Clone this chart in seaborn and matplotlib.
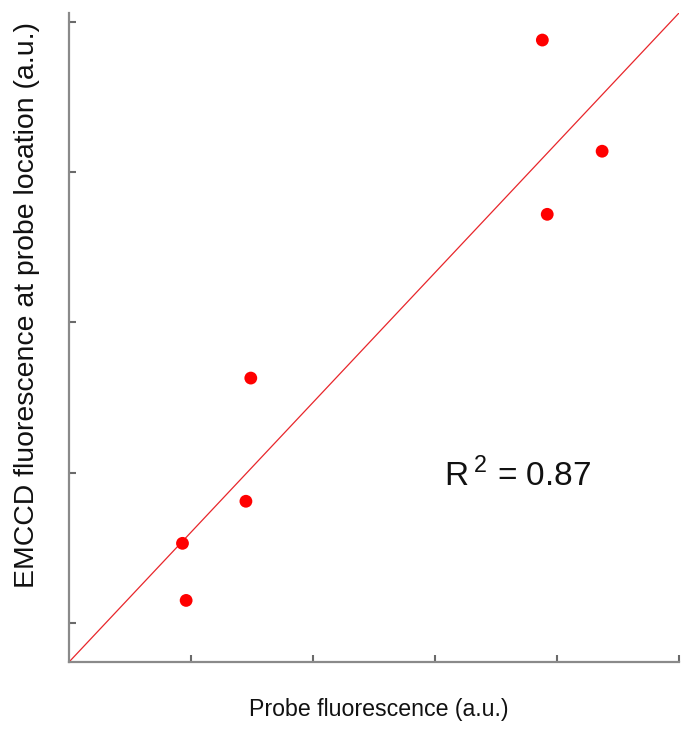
import pandas as pd
import seaborn as sns
import matplotlib
matplotlib.use('agg')
import matplotlib.pyplot as plt

# measured values (arbitrary units)
probe = [0.93, 0.96, 1.45, 1.49, 3.88, 3.92, 4.37]
emccd = [1.53, 1.15, 1.81, 2.63, 4.88, 3.72, 4.14]

# fitted line end points
fit_x = [0.0, 5.0]
fit_y = [0.74, 5.06]

x_ticks = [1, 2, 3, 4, 5]
y_ticks = [1, 2, 3, 4, 5]
r2_text = r'R$\,^{\mathregular{2}}$ = 0.87'

sns.set_style('white')
plt.rcParams['font.family'] = ['Liberation Sans', 'DejaVu Sans']
plt.rcParams['mathtext.fontset'] = 'custom'
plt.rcParams['mathtext.rm'] = 'Liberation Sans'

df = pd.DataFrame({'probe': probe, 'emccd': emccd})
fit = pd.DataFrame({'x': fit_x, 'y': fit_y})

fig = plt.figure(figsize=(6.91, 7.35), dpi=100)
ax = fig.add_axes([0.0999, 0.0993, 0.8827, 0.883])

sns.lineplot(x='x', y='y', data=fit, ax=ax, color='#e8262b', linewidth=0.9)
sns.scatterplot(x='probe', y='emccd', data=df, ax=ax, color='#ff0000',
                s=85, edgecolor='none', zorder=3)

ax.set_xlim(0, 5)
ax.set_ylim(0.74, 5.06)
ax.set_xticks(x_ticks)
ax.set_yticks(y_ticks)
ax.set_xticklabels([])
ax.set_yticklabels([])

for side in ['top', 'right']:
    ax.spines[side].set_visible(False)
for side in ['left', 'bottom']:
    ax.spines[side].set_color('#8a8a8a')
    ax.spines[side].set_linewidth(1.6)
ax.tick_params(axis='both', direction='in', length=5, width=1.5,
               color='#6a6a6a', left=True, bottom=True)

ax.set_xlabel('Probe fluorescence (a.u.)', fontsize=16.7, color='#111111')
ax.set_ylabel('EMCCD fluorescence at probe location (a.u.)', fontsize=20.4,
              color='#111111')
ax.xaxis.set_label_coords(0.507, -0.055)
ax.yaxis.set_label_coords(-0.047, 0.55)

ax.text(3.075, 1.91, r2_text, fontsize=24, color='#111111',
        ha='left', va='baseline')

fig.savefig('out.png', dpi=100)
plt.close(fig)
